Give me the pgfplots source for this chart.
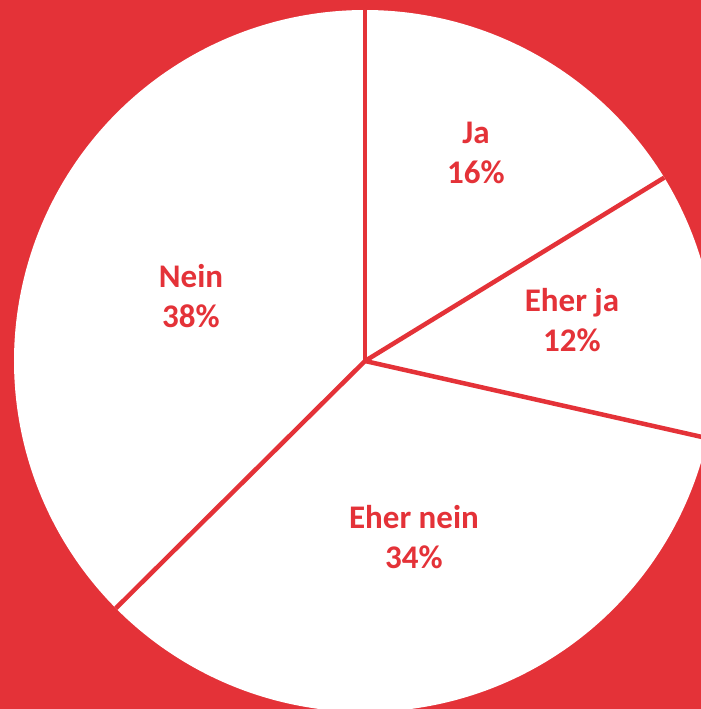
\documentclass[border=0pt]{standalone}
\usepackage{pgfplots}
\pgfplotsset{compat=1.18}
\usepackage{fontspec}
\setmainfont{Carlito}
\definecolor{bg}{RGB}{228,50,56}
% shares (percent)
\pgfmathsetmacro\vA{16.25}% Ja
\pgfmathsetmacro\vB{12.28}% Eher ja
\pgfmathsetmacro\vC{34.03}% Eher nein
\pgfmathsetmacro\vD{37.44}% Nein
\pgfmathsetmacro\aA{90}
\pgfmathsetmacro\aB{\aA-3.6*\vA}
\pgfmathsetmacro\aC{\aB-3.6*\vB}
\pgfmathsetmacro\aD{\aC-3.6*\vC}
\begin{document}
\begin{tikzpicture}
\begin{axis}[hide axis, scale only axis, width=350.5pt, height=354.5pt,
  xmin=0, xmax=701, ymin=0, ymax=709, clip=true]
\addplot[fill=bg, draw=none] coordinates {(0,0) (701,0) (701,709) (0,709) (0,0)};
\addplot[fill=white, draw=none, domain=0:360, samples=361, variable=\t]
  ({365+351*cos(t)}, {348+351*sin(t)});
\addplot[bg, line width=2.25pt, domain=0:351, samples=2, variable=\r] ({365+r*cos(\aA)}, {348+r*sin(\aA)});
\addplot[bg, line width=2.25pt, domain=0:351, samples=2, variable=\r] ({365+r*cos(\aB)}, {348+r*sin(\aB)});
\addplot[bg, line width=2.25pt, domain=0:351, samples=2, variable=\r] ({365+r*cos(\aC)}, {348+r*sin(\aC)});
\addplot[bg, line width=2.25pt, domain=0:351, samples=2, variable=\r] ({365+r*cos(\aD)}, {348+r*sin(\aD)});
\tikzset{lbl/.style={font=\bfseries\fontsize{16.5}{20}\selectfont, text=bg, align=center}}
\node[lbl] at (axis cs:476,556) {Ja\\16\%};
\node[lbl] at (axis cs:572,389) {Eher ja\\12\%};
\node[lbl] at (axis cs:414,172) {Eher nein\\34\%};
\node[lbl] at (axis cs:191,413) {Nein\\38\%};
\end{axis}
\pgfresetboundingbox
\useasboundingbox (current axis.south west) rectangle (current axis.north east);
\end{tikzpicture}
\end{document}
